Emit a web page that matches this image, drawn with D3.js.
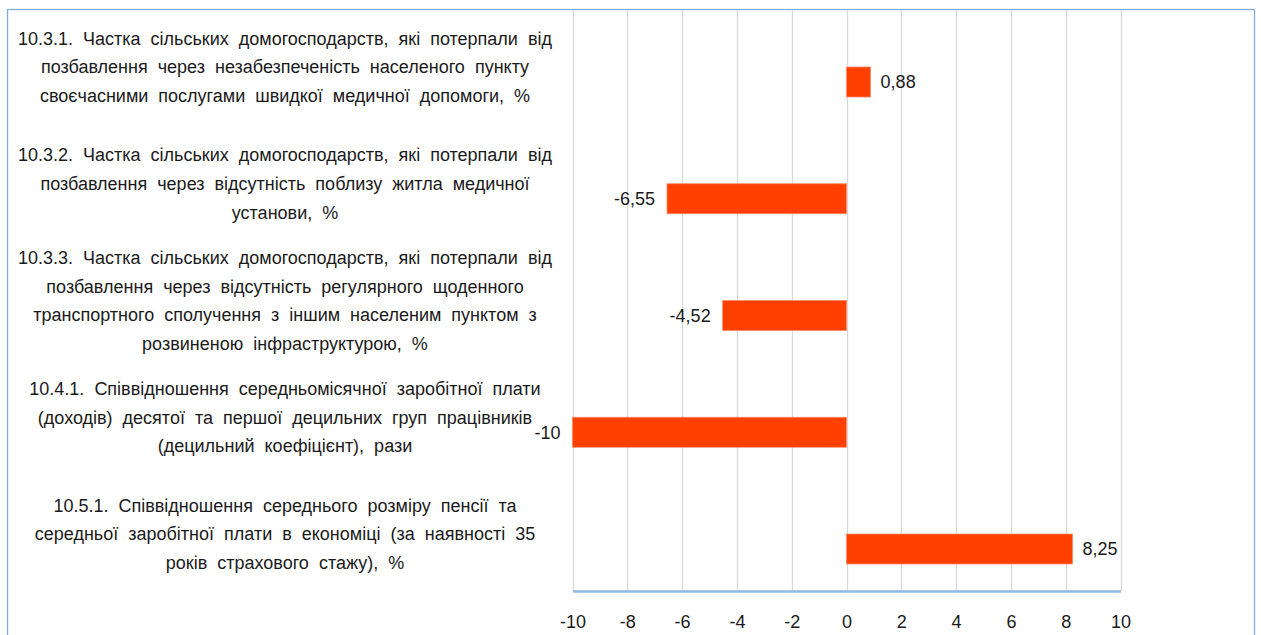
<!DOCTYPE html>
<html>
<head>
<meta charset="utf-8">
<script src="https://cdn.jsdelivr.net/npm/d3@7"></script>
<style>
  html, body { margin: 0; padding: 0; background: #fff; }
  svg { display: block; font-family: "Liberation Sans", Arial, sans-serif; }
  .cat { font-size: 18px; fill: #1a1a1a; word-spacing: 5px; }
  .val { font-size: 18px; fill: #1a1a1a; }
  .tick text { font-size: 18px; fill: #1a1a1a; }
</style>
</head>
<body>
<svg id="chart"></svg>
<script>
const CATEGORIES = ["10.3.1", "10.3.2", "10.3.3", "10.4.1", "10.5.1"];
const CATEGORY_LINES = [
  ["10.3.1. Частка сільських домогосподарств, які потерпали від",
   "позбавлення через незабезпеченість населеного пункту",
   "своєчасними  послугами швидкої медичної допомоги, %"],
  ["10.3.2. Частка сільських домогосподарств, які потерпали від",
   "позбавлення через відсутність поблизу житла медичної",
   "установи, %"],
  ["10.3.3. Частка сільських домогосподарств, які потерпали від",
   "позбавлення через відсутність регулярного щоденного",
   "транспортного сполучення з іншим населеним пунктом з",
   "розвиненою інфраструктурою, %"],
  ["10.4.1. Співвідношення середньомісячної заробітної плати",
   "(доходів) десятої та першої децильних груп працівників",
   "(децильний коефіцієнт), рази"],
  ["10.5.1. Співвідношення середнього розміру пенсії та",
   "середньої заробітної плати в економіці (за наявності  35",
   "років страхового стажу), %"]
];
const VALUES = [0.88, -6.55, -4.52, -10, 8.25];
const X_TICKS = [-10, -8, -6, -4, -2, 0, 2, 4, 6, 8, 10];

const W = 1261, H = 635;
const BAR_H = 30;
const LINE_H = 28.6;

const svg = d3.select("#chart").attr("width", W).attr("height", H);

// outer frame (bottom edge is cut off in the picture)
svg.append("rect")
  .attr("x", 7.5).attr("y", 9.5)
  .attr("width", 1247).attr("height", 700)
  .attr("fill", "none").attr("stroke", "#7eaee0").attr("stroke-width", 1.3);

const x = d3.scaleLinear().domain([-10, 10]).range([572.5, 1120.5]);
const y = d3.scalePoint().domain(CATEGORIES).range([82, 549]);
const AXIS_Y = 591;
const GRID_TOP = 10;

// gridlines
svg.append("g").selectAll("line").data(X_TICKS).join("line")
  .attr("x1", d => Math.round(x(d)) + 0.5).attr("x2", d => Math.round(x(d)) + 0.5)
  .attr("y1", GRID_TOP).attr("y2", AXIS_Y)
  .attr("stroke", "#d9d9d9").attr("stroke-width", 1.3);

// bars
const data = CATEGORIES.map((c, i) => ({ cat: c, v: VALUES[i], lines: CATEGORY_LINES[i] }));
svg.append("g").selectAll("rect").data(data).join("rect")
  .attr("x", d => x(Math.min(0, d.v)))
  .attr("y", d => y(d.cat) - BAR_H / 2)
  .attr("width", d => Math.abs(x(d.v) - x(0)))
  .attr("height", BAR_H)
  .attr("fill", "#ff4000")
  .attr("stroke", "#ff8a66").attr("stroke-width", 0.8);

// value labels
const fmt = v => String(v).replace(".", ",");
svg.append("g").selectAll("text").data(data).join("text")
  .attr("class", "val")
  .attr("x", d => d.v < 0 ? x(d.v) - 12 : x(d.v) + 10)
  .attr("y", d => y(d.cat))
  .attr("dy", "0.35em")
  .attr("text-anchor", d => d.v < 0 ? "end" : "start")
  .text(d => fmt(d.v));

// x axis
const ax = svg.append("g").attr("transform", "translate(0," + AXIS_Y + ")")
  .call(d3.axisBottom(x).tickValues(X_TICKS).tickSize(0).tickPadding(24).tickFormat(d => String(d)));
ax.select(".domain").attr("stroke", "#8fb8e6").attr("stroke-width", 2.5);
ax.selectAll(".tick text").attr("font-family", null).attr("font-size", null);

// category labels
const lab = svg.append("g").selectAll("text").data(data).join("text")
  .attr("class", "cat")
  .attr("text-anchor", "middle");
lab.each(function (d) {
  const n = d.lines.length;
  const cy = y(d.cat) - 15;
  d3.select(this).selectAll("tspan").data(d.lines).join("tspan")
    .attr("x", 285)
    .attr("y", (l, i) => cy + (i - (n - 1) / 2) * LINE_H)
    .attr("dy", "0.35em")
    .text(l => l);
});
</script>
</body>
</html>
